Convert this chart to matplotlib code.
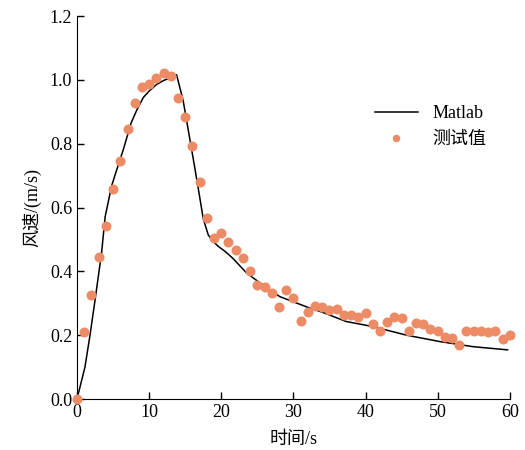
import numpy as np
import matplotlib
matplotlib.use("Agg")
import matplotlib.pyplot as plt

plt.rcParams['font.family'] = ['Liberation Serif', 'Noto Sans CJK SC', 'DejaVu Sans']
plt.rcParams['axes.unicode_minus'] = False

# Matlab 仿真曲线
t_sim = [0, 1.1, 1.8, 2.5, 3.4, 3.9, 4.8, 5.9, 6.4, 7.5, 8.3, 9.2, 10.0, 11.0,
         12.0, 12.9, 13.3, 13.8, 14.7, 15.5, 16.3, 17.0, 17.5, 18.2, 18.9, 19.6,
         20.5, 21.6, 23.5, 25.3, 28.1, 31.8, 34.0, 37.3, 41.0, 45.7, 50.3, 54.9, 59.7]
v_sim = [0, 0.10, 0.20, 0.31, 0.457, 0.571, 0.668, 0.746, 0.78, 0.865, 0.906,
         0.945, 0.965, 0.985, 0.998, 1.006, 1.01, 1.016, 0.937, 0.833, 0.728, 0.634,
         0.565, 0.514, 0.493, 0.478, 0.463, 0.441, 0.395, 0.365, 0.321, 0.289, 0.272,
         0.243, 0.227, 0.200, 0.180, 0.164, 0.154]

# 测试值
t_test = list(range(0, 61))
v_test = [0.0, 0.211, 0.326, 0.446, 0.543, 0.658, 0.747, 0.846, 0.929, 0.977, 0.987,
          1.007, 1.023, 1.012, 0.943, 0.883, 0.793, 0.68, 0.567, 0.505, 0.52,
          0.492, 0.467, 0.442, 0.401, 0.357, 0.351, 0.332, 0.288, 0.342, 0.317,
          0.244, 0.273, 0.292, 0.288, 0.279, 0.282, 0.263, 0.263, 0.257, 0.27,
          0.235, 0.213, 0.241, 0.257, 0.254, 0.213, 0.238, 0.235, 0.219, 0.213,
          0.194, 0.191, 0.169, 0.213, 0.213, 0.213, 0.21, 0.213, 0.188, 0.2]

fig = plt.figure(figsize=(5.25, 4.5), dpi=100)
ax = fig.add_axes([0.1467, 0.1133, 0.8243, 0.8511])

ax.plot(t_sim, v_sim, color='black', lw=1.1, label='Matlab', zorder=2)
ax.plot(t_test, v_test, linestyle='none', marker='o', markersize=7.2,
        color='#EC8B66', markeredgewidth=0, label='测试值', clip_on=False, zorder=3)

ax.set_xlim(0, 60)
ax.set_ylim(0, 1.2)
ax.set_xticks(np.arange(0, 61, 10))
ax.set_yticks(np.arange(0, 1.21, 0.2))
ax.set_yticklabels(['%.1f' % v for v in np.arange(0, 1.21, 0.2)])
ax.tick_params(direction='in', labelsize=13, length=5, width=1)
ax.spines['top'].set_visible(False)
ax.spines['right'].set_visible(False)

ax.set_xlabel('时间/s', fontsize=13, labelpad=7)
ax.set_ylabel('风速/(m/s)', fontsize=13, labelpad=6)

ax.legend(loc='upper left', bbox_to_anchor=(0.65, 0.81), frameon=False,
          fontsize=13, markerscale=0.75, handlelength=2.4, handletextpad=0.8,
          labelspacing=0.5)

fig.savefig('out.png', dpi=100)
